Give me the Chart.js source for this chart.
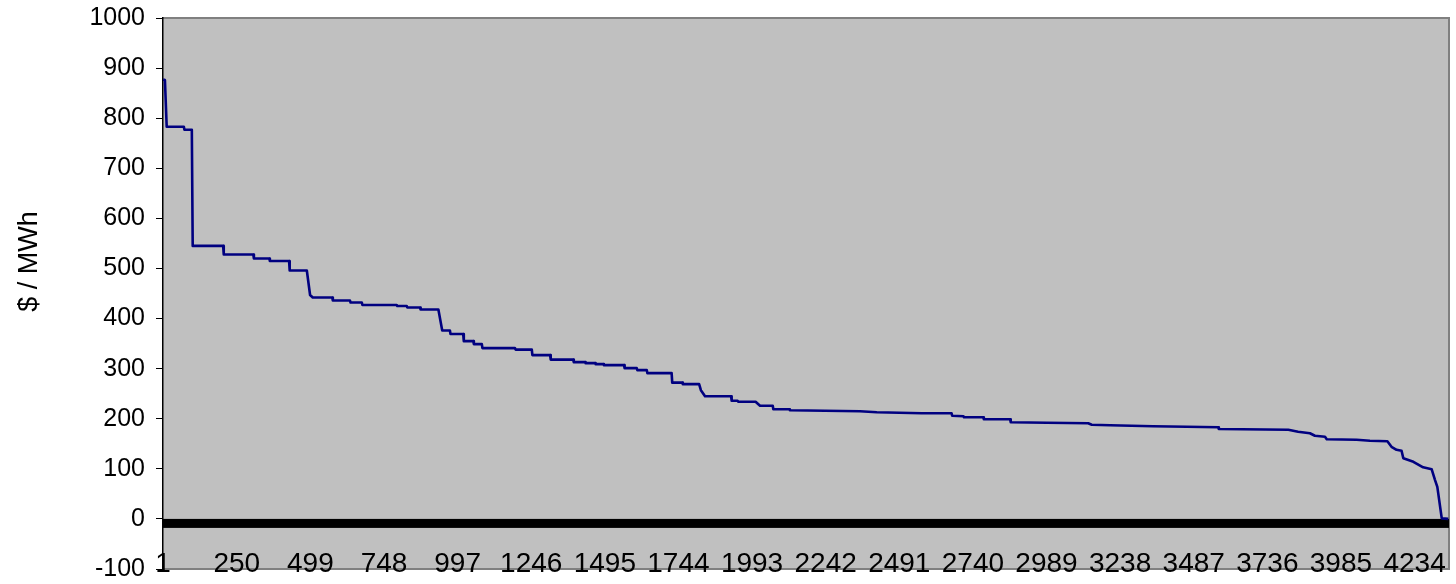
<!DOCTYPE html>
<html lang="en">
<head>
    <meta charset="UTF-8">
    <title>Price Duration Curve</title>
    <script src="https://cdn.jsdelivr.net/npm/chart.js"></script>
    <style>
        body { margin: 0; background: #fff; }
        #wrap { width: 1456px; height: 584px; }
    </style>
</head>
<body>
    <div id="wrap"><canvas id="durationChart" width="1456" height="584"></canvas></div>

    <script>
        // hour rank (x) and price (y) at each corner of the curve
        const hourRank = [1, 7, 13, 71, 73, 98, 101, 204, 206, 306, 308, 360, 362, 427, 429, 487, 498, 507, 573, 575,
            633, 635, 673, 675, 791, 793, 825, 827, 870, 872, 932, 945, 971, 973, 1016, 1018, 1050, 1052, 1079, 1081,
            1191, 1193, 1248, 1250, 1310, 1312, 1388, 1390, 1428, 1430, 1462, 1464, 1490, 1492, 1560, 1562, 1603, 1605,
            1637, 1639, 1721, 1723, 1757, 1759, 1814, 1820, 1834, 1922, 1924, 1944, 1946, 2005, 2020, 2063, 2065, 2119,
            2121, 2358, 2415, 2567, 2668, 2670, 2708, 2710, 2775, 2777, 2866, 2868, 2990, 3130, 3142, 3204, 3349, 3463,
            3570, 3572, 3807, 3840, 3880, 3897, 3931, 3937, 4038, 4083, 4142, 4156, 4173, 4190, 4196, 4230, 4263, 4292,
            4303, 4311, 4326, 4348];
        const price = [877, 876, 783, 783, 777, 777, 545, 545, 528, 528, 520, 520, 515, 515, 496, 496, 447, 442, 442, 436,
            436, 432, 432, 427, 427, 425, 425, 422, 422, 418, 418, 376, 376, 369, 369, 355, 355, 349, 349, 341,
            341, 338, 338, 327, 327, 318, 318, 313, 313, 311, 311, 309, 309, 307, 307, 301, 301, 297,
            297, 291, 291, 272, 272, 269, 269, 257, 245, 245, 236, 236, 234, 234, 226, 226, 219, 219,
            217, 215, 213, 211, 211, 206, 205, 203, 203, 199, 199, 193, 192, 191, 188, 187, 185, 184,
            183, 179.5, 178, 174, 171, 166, 164, 159, 158, 156, 155, 144, 138, 136, 121, 114, 103, 99,
            78, 64, 1, 0];

        const xTickValues = [1, 250, 499, 748, 997, 1246, 1495, 1744, 1993, 2242, 2491, 2740, 2989, 3238, 3487, 3736, 3985, 4234];
        const yMin = -100;
        const yMax = 1000;
        const yStep = 100;
        const hourCount = 4350;
        const yTitle = '$ / MWh';

        const points = hourRank.map((h, i) => ({ x: h, y: price[i] }));

        // grey plot area with its frame, and the dense tick band along zero
        const plotArea = {
            id: 'plotArea',
            beforeDraw(chart) {
                const { ctx, chartArea: a } = chart;
                ctx.save();
                ctx.fillStyle = '#C0C0C0';
                ctx.fillRect(a.left, a.top, a.right - a.left, a.bottom - a.top);
                ctx.strokeStyle = '#808080';
                ctx.lineWidth = 2;
                ctx.beginPath();
                ctx.moveTo(a.left, a.top);
                ctx.lineTo(a.right, a.top);
                ctx.lineTo(a.right, a.bottom);
                ctx.lineTo(a.left, a.bottom);
                ctx.stroke();
                ctx.restore();
            },
            beforeDatasetsDraw(chart) {
                const { ctx, chartArea: a } = chart;
                const y0 = chart.scales.y.getPixelForValue(0);
                ctx.save();
                ctx.fillStyle = '#000';
                ctx.fillRect(a.left, y0, a.right - a.left, 9);
                ctx.restore();
            },
            afterDraw(chart) {
                const { ctx, chartArea: a } = chart;
                ctx.save();
                ctx.translate(30, (a.top + a.bottom) / 2 - 32);
                ctx.rotate(-Math.PI / 2);
                ctx.font = '27px "Liberation Sans", Arial, sans-serif';
                ctx.fillStyle = '#000';
                ctx.textAlign = 'center';
                ctx.textBaseline = 'middle';
                ctx.fillText(yTitle, 0, 0);
                ctx.restore();
            }
        };

        new Chart(document.getElementById('durationChart'), {
            type: 'line',
            data: {
                datasets: [{
                    data: points,
                    borderColor: '#000080',
                    borderWidth: 2.6,
                    borderJoinStyle: 'round',
                    pointRadius: 0,
                    tension: 0,
                    fill: false
                }]
            },
            options: {
                responsive: false,
                animation: false,
                devicePixelRatio: 1,
                layout: { padding: { left: 0, top: 18, right: 7, bottom: 15 } },
                plugins: { legend: { display: false }, tooltip: { enabled: false } },
                scales: {
                    x: {
                        type: 'linear',
                        position: { y: 0 },
                        min: 0.5,
                        max: hourCount + 0.5,
                        afterBuildTicks: (scale) => {
                            scale.ticks = xTickValues.map(v => ({ value: v }));
                        },
                        afterFit: (scale) => { scale.paddingLeft = 0; scale.paddingRight = 0; },
                        grid: { display: false },
                        border: { display: false },
                        ticks: {
                            autoSkip: false,
                            maxRotation: 0,
                            padding: 21,
                            color: '#000',
                            font: { family: '"Liberation Sans", Arial, sans-serif', size: 28 },
                            callback: (v) => String(v)
                        }
                    },
                    y: {
                        min: yMin,
                        max: yMax,
                        afterFit: (scale) => { scale.width = 163; scale.paddingTop = 0; scale.paddingBottom = 0; },
                        grid: { drawOnChartArea: false, drawTicks: true, tickLength: 7, color: '#000' },
                        border: { color: '#000', width: 1.5 },
                        ticks: {
                            stepSize: yStep,
                            padding: 11,
                            color: '#000',
                            font: { family: '"Liberation Sans", Arial, sans-serif', size: 25 },
                            callback: (v) => String(v)
                        }
                    }
                }
            },
            plugins: [plotArea]
        });
    </script>
</body>
</html>
